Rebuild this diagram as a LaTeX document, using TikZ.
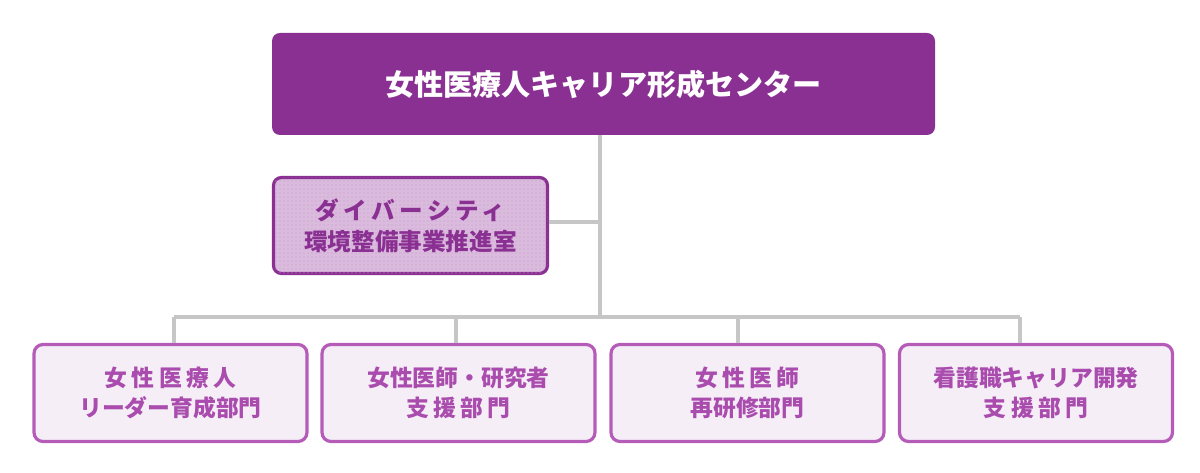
\documentclass[tikz,border=0pt]{standalone}
\usepackage{fontspec}
\newfontfamily\jp{Noto Sans CJK JP}
\usetikzlibrary{patterns}
\definecolor{topfill}{RGB}{139,48,147}
\definecolor{divfill}{RGB}{218,186,221}
\definecolor{divdot}{RGB}{200,158,206}
\definecolor{botline}{RGB}{180,92,184}
\definecolor{botfill}{RGB}{246,238,247}
\definecolor{bottext}{RGB}{169,76,174}
\definecolor{conn}{RGB}{198,198,198}
\newcommand{\trk}[1]{{\addfontfeature{LetterSpace=19}#1}}
\tikzset{
  topbox/.style={fill=topfill, rounded corners=8*0.75pt, minimum width=663*0.75pt, minimum height=102*0.75pt, inner sep=0pt, text=white, font=\jp\bfseries\fontsize{21.8pt}{26pt}\selectfont},
  divbox/.style={draw=topfill, line width=2.4pt, fill=divfill, postaction={pattern=dots, pattern color=divdot}, rounded corners=8*0.75pt, minimum width=274*0.75pt, minimum height=96*0.75pt, inner sep=0pt, text=topfill, align=center, font=\jp\bfseries\fontsize{17.7pt}{23pt}\selectfont},
  botbox/.style={draw=botline, line width=2.4pt, fill=botfill, rounded corners=9*0.75pt, minimum width=273*0.75pt, minimum height=97*0.75pt, inner sep=0pt, text=bottext, align=center, font=\jp\bfseries\fontsize{17.1pt}{22.5pt}\selectfont},
  conline/.style={draw=conn, line width=2.3pt}
}
\begin{document}
\begin{tikzpicture}[x=0.75pt,y=-0.75pt]
\useasboundingbox (0,0) rectangle (1200,473);
\node[topbox] (top) at (603.5,84) {女性医療人キャリア形成センター};
\node[divbox] (div) at (410.5,225.5) {\trk{ダイバーシティ}\\環境整備事業推進室};
\node[botbox] (b1) at (170.5,393) {\trk{女性医療人}\\リーダー育成部門};
\node[botbox] (b2) at (458.5,393) {女性医師・研究者\\\trk{支援部門}};
\node[botbox] (b3) at (747.5,393) {\trk{女性医師}\\再研修部門};
\node[botbox] (b4) at (1036,393) {看護職キャリア開発\\\trk{支援部門}};
\coordinate (s0) at (600,135.5);
\coordinate (sd) at (600,222);
\coordinate (s1) at (600,317);
\coordinate (h1) at (174,317);
\coordinate (h2) at (456,317);
\coordinate (h3) at (738,317);
\coordinate (h4) at (1020,317);
\draw[conline] (s0) -- (s1);
\draw[conline] (div.east |- sd) -- (sd);
\draw[conline] (h1) -- (h4);
\draw[conline] (h1) -- (h1 |- b1.north);
\draw[conline] (h2) -- (h2 |- b2.north);
\draw[conline] (h3) -- (h3 |- b3.north);
\draw[conline] (h4) -- (h4 |- b4.north);
\end{tikzpicture}
\end{document}
